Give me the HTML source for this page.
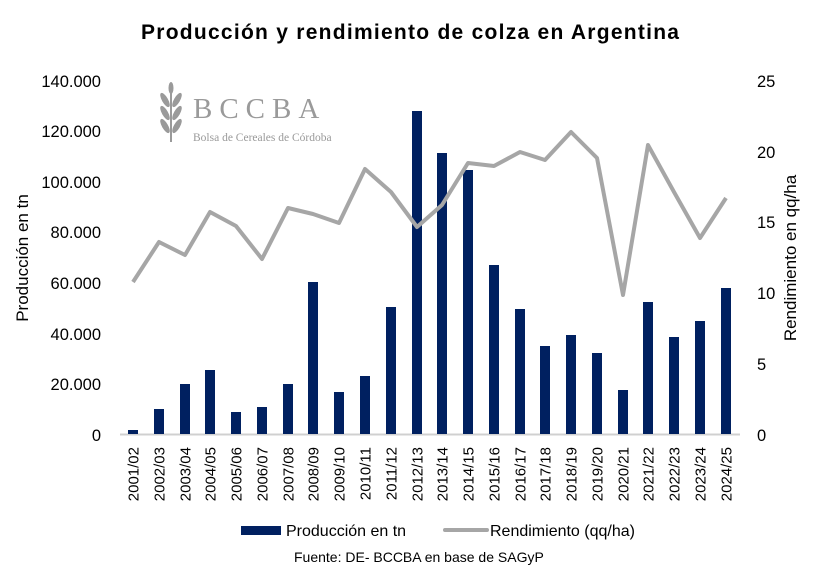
<!DOCTYPE html>
<html><head><meta charset="utf-8"><style>
body{margin:0;background:#fff;}
svg{display:block;font-family:"Liberation Sans",sans-serif;}
</style></head><body>
<svg width="820" height="582" viewBox="0 0 820 582">
<rect width="820" height="582" fill="#fff"/>
<text x="410" y="39" text-anchor="middle" font-size="21" font-weight="bold" fill="#000" textLength="538" lengthAdjust="spacing">Producción y rendimiento de colza en Argentina</text>
<g fill="#9a9a9a">
<path d="M171 86 L171 142" stroke="#9a9a9a" stroke-width="2" fill="none"/>
<ellipse cx="165" cy="100" rx="3" ry="8" transform="rotate(-30 165 100)"/>
<ellipse cx="177" cy="100" rx="3" ry="8" transform="rotate(30 177 100)"/>
<ellipse cx="165" cy="113" rx="3" ry="8" transform="rotate(-30 165 113)"/>
<ellipse cx="177" cy="113" rx="3" ry="8" transform="rotate(30 177 113)"/>
<ellipse cx="165" cy="126" rx="3" ry="8" transform="rotate(-30 165 126)"/>
<ellipse cx="177" cy="126" rx="3" ry="8" transform="rotate(30 177 126)"/>
<ellipse cx="171" cy="88" rx="2.5" ry="6"/>
</g>
<text x="193" y="118" font-family="Liberation Serif,serif" font-size="29" fill="#9a9a9a" letter-spacing="7">BCCBA</text>
<text x="193" y="141" font-family="Liberation Serif,serif" font-size="11.5" fill="#9a9a9a">Bolsa de Cereales de Córdoba</text>
<g font-size="16.5" fill="#000" text-anchor="end">
<text x="101" y="441">0</text><text x="101" y="390">20.000</text><text x="101" y="340">40.000</text><text x="101" y="289">60.000</text><text x="101" y="238">80.000</text><text x="101" y="188">100.000</text><text x="101" y="137">120.000</text><text x="101" y="87">140.000</text>
</g>
<g font-size="16.5" fill="#000" text-anchor="start">
<text x="757" y="441">0</text><text x="757" y="370">5</text><text x="757" y="299">10</text><text x="757" y="228">15</text><text x="757" y="158">20</text><text x="757" y="87">25</text>
</g>
<text transform="translate(28 258) rotate(-90)" font-size="17" text-anchor="middle">Producción en tn</text>
<text transform="translate(796 258) rotate(-90)" font-size="17" text-anchor="middle">Rendimiento en qq/ha</text>
<line x1="120" y1="434.5" x2="740" y2="434.5" stroke="#d0d0d0" stroke-width="2"/>
<g fill="#002060">
<rect x="128" y="430" width="10" height="4"/>
<rect x="154" y="409" width="10" height="25"/>
<rect x="180" y="384" width="10" height="50"/>
<rect x="205" y="370" width="10" height="64"/>
<rect x="231" y="412" width="10" height="22"/>
<rect x="257" y="407" width="10" height="27"/>
<rect x="283" y="384" width="10" height="50"/>
<rect x="308" y="282" width="10" height="152"/>
<rect x="334" y="392" width="10" height="42"/>
<rect x="360" y="376" width="10" height="58"/>
<rect x="386" y="307" width="10" height="127"/>
<rect x="412" y="111" width="10" height="323"/>
<rect x="437" y="153" width="10" height="281"/>
<rect x="463" y="170" width="10" height="264"/>
<rect x="489" y="265" width="10" height="169"/>
<rect x="515" y="309" width="10" height="125"/>
<rect x="540" y="346" width="10" height="88"/>
<rect x="566" y="335" width="10" height="99"/>
<rect x="592" y="353" width="10" height="81"/>
<rect x="618" y="390" width="10" height="44"/>
<rect x="643" y="302" width="10" height="132"/>
<rect x="669" y="337" width="10" height="97"/>
<rect x="695" y="321" width="10" height="113"/>
<rect x="721" y="288" width="10" height="146"/>
</g>
<polyline fill="none" stroke="#a6a6a6" stroke-width="4" stroke-linejoin="round" points="133,282 159,242 185,255 210,212 236,226 262,259 288,208 313,214 339,223 365,169 391,192 417,227 442,205 468,163 494,166 520,152 545,160 571,132 597,158 623,295 648,145 674,192 700,238 726,198"/>
<g font-size="15" fill="#000" text-anchor="end">
<text transform="translate(138.5 447) rotate(-90)">2001/02</text>
<text transform="translate(164.5 447) rotate(-90)">2002/03</text>
<text transform="translate(190.5 447) rotate(-90)">2003/04</text>
<text transform="translate(215.5 447) rotate(-90)">2004/05</text>
<text transform="translate(241.5 447) rotate(-90)">2005/06</text>
<text transform="translate(267.5 447) rotate(-90)">2006/07</text>
<text transform="translate(293.5 447) rotate(-90)">2007/08</text>
<text transform="translate(318.5 447) rotate(-90)">2008/09</text>
<text transform="translate(344.5 447) rotate(-90)">2009/10</text>
<text transform="translate(370.5 447) rotate(-90)">2010/11</text>
<text transform="translate(396.5 447) rotate(-90)">2011/12</text>
<text transform="translate(422.5 447) rotate(-90)">2012/13</text>
<text transform="translate(447.5 447) rotate(-90)">2013/14</text>
<text transform="translate(473.5 447) rotate(-90)">2014/15</text>
<text transform="translate(499.5 447) rotate(-90)">2015/16</text>
<text transform="translate(525.5 447) rotate(-90)">2016/17</text>
<text transform="translate(550.5 447) rotate(-90)">2017/18</text>
<text transform="translate(576.5 447) rotate(-90)">2018/19</text>
<text transform="translate(602.5 447) rotate(-90)">2019/20</text>
<text transform="translate(628.5 447) rotate(-90)">2020/21</text>
<text transform="translate(653.5 447) rotate(-90)">2021/22</text>
<text transform="translate(679.5 447) rotate(-90)">2022/23</text>
<text transform="translate(705.5 447) rotate(-90)">2023/24</text>
<text transform="translate(731.5 447) rotate(-90)">2024/25</text>
</g>
<rect x="241" y="526" width="40" height="9" fill="#002060"/>
<text x="286" y="536" font-size="16">Producción en tn</text>
<line x1="445" y1="530" x2="487" y2="530" stroke="#a6a6a6" stroke-width="4" stroke-linecap="round"/>
<text x="490" y="536" font-size="16">Rendimiento (qq/ha)</text>
<text x="294" y="562" font-size="14">Fuente: DE- BCCBA en base de SAGyP</text>
</svg>
</body></html>
